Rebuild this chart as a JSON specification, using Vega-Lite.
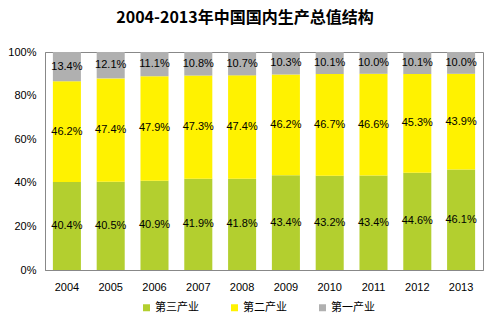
{
  "$schema": "https://vega.github.io/schema/vega-lite/v6.json",
  "width": 438,
  "height": 218,
  "autosize": {"type": "none"},
  "padding": {"left": 45, "top": 52, "right": 7, "bottom": 59},
  "background": "white",
  "title": {
    "text": "2004-2013年中国国内生产总值结构",
    "font": "Noto Sans CJK SC",
    "fontSize": 16,
    "fontWeight": "bold",
    "color": "#000000",
    "anchor": "middle",
    "dx": -19,
    "offset": 20
  },
  "config": {
    "view": {"stroke": "#888888", "strokeWidth": 1},
    "axis": {"labelFont": "Liberation Sans", "labelFontSize": 11, "labelColor": "#000000", "grid": false, "ticks": false, "domainColor": "#888888"}
  },
  "data": {
    "values": [
      {"year": "2004", "sector": "第三产业", "ord": 1, "v": 0.404},
      {"year": "2004", "sector": "第二产业", "ord": 2, "v": 0.462},
      {"year": "2004", "sector": "第一产业", "ord": 3, "v": 0.134},
      {"year": "2005", "sector": "第三产业", "ord": 1, "v": 0.405},
      {"year": "2005", "sector": "第二产业", "ord": 2, "v": 0.474},
      {"year": "2005", "sector": "第一产业", "ord": 3, "v": 0.121},
      {"year": "2006", "sector": "第三产业", "ord": 1, "v": 0.409},
      {"year": "2006", "sector": "第二产业", "ord": 2, "v": 0.479},
      {"year": "2006", "sector": "第一产业", "ord": 3, "v": 0.111},
      {"year": "2007", "sector": "第三产业", "ord": 1, "v": 0.419},
      {"year": "2007", "sector": "第二产业", "ord": 2, "v": 0.473},
      {"year": "2007", "sector": "第一产业", "ord": 3, "v": 0.108},
      {"year": "2008", "sector": "第三产业", "ord": 1, "v": 0.418},
      {"year": "2008", "sector": "第二产业", "ord": 2, "v": 0.474},
      {"year": "2008", "sector": "第一产业", "ord": 3, "v": 0.107},
      {"year": "2009", "sector": "第三产业", "ord": 1, "v": 0.434},
      {"year": "2009", "sector": "第二产业", "ord": 2, "v": 0.462},
      {"year": "2009", "sector": "第一产业", "ord": 3, "v": 0.103},
      {"year": "2010", "sector": "第三产业", "ord": 1, "v": 0.432},
      {"year": "2010", "sector": "第二产业", "ord": 2, "v": 0.467},
      {"year": "2010", "sector": "第一产业", "ord": 3, "v": 0.101},
      {"year": "2011", "sector": "第三产业", "ord": 1, "v": 0.434},
      {"year": "2011", "sector": "第二产业", "ord": 2, "v": 0.466},
      {"year": "2011", "sector": "第一产业", "ord": 3, "v": 0.100},
      {"year": "2012", "sector": "第三产业", "ord": 1, "v": 0.446},
      {"year": "2012", "sector": "第二产业", "ord": 2, "v": 0.453},
      {"year": "2012", "sector": "第一产业", "ord": 3, "v": 0.101},
      {"year": "2013", "sector": "第三产业", "ord": 1, "v": 0.461},
      {"year": "2013", "sector": "第二产业", "ord": 2, "v": 0.439},
      {"year": "2013", "sector": "第一产业", "ord": 3, "v": 0.100}
    ]
  },
  "encoding": {
    "x": {
      "field": "year",
      "type": "ordinal",
      "title": null,
      "scale": {"paddingInner": 0.36, "paddingOuter": 0.18},
      "axis": {"labelAngle": 0, "labelPadding": 11}
    }
  },
  "layer": [
    {
      "mark": {"type": "bar"},
      "encoding": {
        "y": {
          "field": "v",
          "type": "quantitative",
          "stack": "normalize",
          "title": null,
          "scale": {"domain": [0, 1], "nice": false},
          "axis": {"values": [0, 0.2, 0.4, 0.6, 0.8, 1], "format": ".0%", "labelPadding": 9}
        },
        "order": {"field": "ord", "type": "quantitative"},
        "color": {
          "field": "sector",
          "type": "nominal",
          "scale": {"domain": ["第三产业", "第二产业", "第一产业"], "range": ["#B3CF2F", "#FFF200", "#B0B0B0"]},
          "legend": {
            "title": null,
            "orient": "none",
            "direction": "horizontal",
            "legendX": 96,
            "legendY": 250,
            "symbolType": "square",
            "symbolSize": 49,
            "symbolStrokeWidth": 0,
            "labelFont": "Noto Sans CJK SC",
            "labelFontSize": 11,
            "labelColor": "#000000",
            "labelOffset": 3,
            "columnPadding": 30
          }
        }
      }
    },
    {
      "transform": [
        {"stack": "v", "groupby": ["year"], "sort": [{"field": "ord", "order": "ascending"}], "offset": "normalize", "as": ["lo", "hi"]},
        {"calculate": "(datum.lo + datum.hi) / 2", "as": "mid"}
      ],
      "mark": {"type": "text", "font": "Liberation Sans", "fontSize": 11, "color": "#000000"},
      "encoding": {
        "y": {"field": "mid", "type": "quantitative"},
        "text": {"field": "v", "type": "quantitative", "format": ".1%"}
      }
    }
  ]
}
